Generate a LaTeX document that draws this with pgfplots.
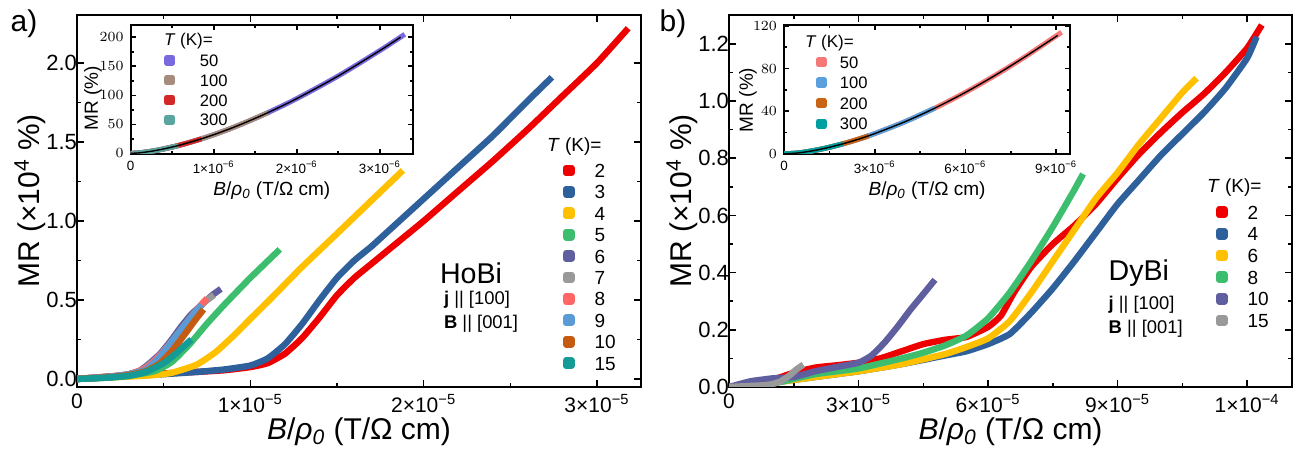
\documentclass[border=0pt]{standalone}
\usepackage{fontspec}
\setmainfont{Liberation Sans}
\usepackage{pgfplots}
\pgfplotsset{compat=1.18}

\definecolor{cRed}{RGB}{238,0,0}
\definecolor{cBlue}{RGB}{46,96,156}
\definecolor{cYel}{RGB}{255,192,0}
\definecolor{cGrn}{RGB}{60,190,110}
\definecolor{cPur}{RGB}{95,95,160}
\definecolor{cGry}{RGB}{153,153,153}
\definecolor{cPnk}{RGB}{255,102,102}
\definecolor{cLbl}{RGB}{91,155,213}
\definecolor{cOrg}{RGB}{197,90,17}
\definecolor{cTea}{RGB}{20,155,150}
% inset colours
\definecolor{iaA}{RGB}{120,105,220}
\definecolor{iaB}{RGB}{165,140,125}
\definecolor{iaC}{RGB}{210,40,40}
\definecolor{iaD}{RGB}{90,165,160}
\definecolor{ibA}{RGB}{245,120,120}
\definecolor{ibB}{RGB}{90,160,220}
\definecolor{ibC}{RGB}{200,100,20}
\definecolor{ibD}{RGB}{0,160,160}

\newcommand{\bro}{\textit{B}/\textit{ρ}\textsubscript{\textit{0}} (T/Ω cm)}
\newcommand{\sci}[2]{#1×10\textsuperscript{#2}}

\pgfplotsset{
  frame/.style={
    scale only axis, tick align=inside, no markers,
    axis line style={line width=0.9pt},
    every tick/.style={black, line width=0.8pt},
    major tick length=3.5pt, minor tick length=2pt,
    minor x tick num=1, minor y tick num=1,
    legend cell align=left,
    legend image code/.code={\fill[##1] (-1.35pt,-1.35pt) rectangle (1.35pt,1.35pt);},
  },
  mainax/.style={frame,
    every axis plot/.append style={line width=3.2pt, line join=round, smooth, tension=0.3},
    xticklabel style={font=\fontsize{10.5}{12}\selectfont},
    yticklabel style={font=\fontsize{11}{13}\selectfont, xshift=3.5pt},
    label style={font=\fontsize{15}{17}\selectfont},
    xlabel style={at={(axis description cs:0.5,-0.121)}, anchor=center},
    ylabel style={at={(axis description cs:-0.0834,0.5)}, anchor=center},
    legend style={draw=none, fill=none, inner sep=0pt,
      font=\fontsize{9.5}{11}\selectfont, column sep=10pt,
      nodes={inner sep=0pt, text height=7pt, text depth=0pt}},
  },
  insax/.style={frame,
    axis background/.style={fill=white},
    every axis plot/.append style={line width=2.5pt, line join=round, smooth},
    ticklabel style={font=\fontsize{6.7}{8}\selectfont},
    label style={font=\fontsize{9.5}{11}\selectfont},
    xlabel style={at={(axis description cs:0.5,-0.285)}, anchor=center},
    major tick length=2.5pt, minor tick length=1.5pt,
    legend style={draw=none, fill=none, inner sep=0pt,
      font=\fontsize{8.3}{10}\selectfont,
      nodes={inner sep=0pt, text height=6pt, text depth=0pt}},
  },
}

\begin{document}
\begin{tikzpicture}
\useasboundingbox (0,0) rectangle (652pt,227pt);

% ---------------- panel a: HoBi ----------------
\begin{axis}[mainax, at={(38.5pt,33.5pt)}, anchor=south west,
  width=282pt, height=186pt,
  xmin=0, xmax=3.254, ymin=-0.051, ymax=2.304,
  xtick={0,1,2,3}, xticklabels={0,\sci{1}{−5},\sci{2}{−5},\sci{3}{−5}},
  ytick={0,0.5,1,1.5,2}, yticklabels={0.0,0.5,1.0,1.5,2.0},
  xlabel={\bro}, ylabel={MR (×10\textsuperscript{4} \%)},
  legend style={at={(0.8606,0.602)}, anchor=north west, row sep=3.7pt},
]
\addplot[cRed] coordinates {(0,0)(0.3,0.025)(0.5,0.035)(0.7,0.045)(0.85,0.055)(1.0,0.075)(1.1,0.1)(1.2,0.16)(1.3,0.26)(1.4,0.39)(1.5,0.53)(1.6,0.64)(1.7,0.73)(1.8,0.82)(2.0,1.0)(2.2,1.19)(2.4,1.38)(2.6,1.58)(2.8,1.79)(3.0,2.0)(3.18,2.22)};
\addlegendentry{2}
\addplot[cBlue] coordinates {(0,0)(0.3,0.02)(0.5,0.03)(0.7,0.045)(0.85,0.06)(1.0,0.085)(1.1,0.13)(1.2,0.22)(1.3,0.35)(1.4,0.5)(1.5,0.64)(1.6,0.75)(1.7,0.84)(1.8,0.94)(2.0,1.14)(2.2,1.34)(2.4,1.54)(2.6,1.76)(2.74,1.91)};
\addlegendentry{3}
\addplot[cYel] coordinates {(0,0)(0.3,0.015)(0.45,0.025)(0.55,0.04)(0.69,0.09)(0.8,0.17)(0.9,0.27)(1.0,0.38)(1.12,0.51)(1.29,0.7)(1.5,0.92)(1.69,1.12)(1.88,1.32)};
\addlegendentry{4}
\addplot[cGrn] coordinates {(0,0)(0.2,0.01)(0.3,0.02)(0.45,0.05)(0.55,0.11)(0.65,0.22)(0.75,0.35)(0.85,0.47)(1.0,0.64)(1.17,0.82)};
\addlegendentry{5}
\addplot[cPur] coordinates {(0,0)(0.1,0.005)(0.2,0.015)(0.3,0.03)(0.36,0.05)(0.42,0.1)(0.48,0.16)(0.54,0.24)(0.6,0.33)(0.66,0.41)(0.72,0.47)(0.78,0.53)(0.83,0.57)};
\addlegendentry{6}
\addplot[cGry] coordinates {(0,0)(0.2,0.015)(0.3,0.03)(0.38,0.06)(0.45,0.12)(0.52,0.2)(0.6,0.31)(0.68,0.42)(0.74,0.49)(0.79,0.53)};
\addlegendentry{7}
\addplot[cPnk] coordinates {(0,0)(0.2,0.015)(0.3,0.03)(0.4,0.07)(0.47,0.14)(0.55,0.24)(0.62,0.34)(0.7,0.45)(0.75,0.51)};
\addlegendentry{8}
\addplot[cLbl] coordinates {(0,0)(0.2,0.015)(0.3,0.03)(0.4,0.06)(0.47,0.13)(0.55,0.24)(0.62,0.34)(0.68,0.42)(0.72,0.47)};
\addlegendentry{9}
\addplot[cOrg] coordinates {(0,0)(0.2,0.012)(0.3,0.025)(0.4,0.05)(0.48,0.1)(0.55,0.18)(0.62,0.28)(0.68,0.37)(0.73,0.44)};
\addlegendentry{10}
\addplot[cTea] coordinates {(0,0)(0.1,0.004)(0.2,0.01)(0.3,0.02)(0.4,0.045)(0.5,0.1)(0.57,0.16)(0.62,0.21)(0.66,0.25)};
\addlegendentry{15}
\end{axis}

% inset a
\begin{axis}[insax, at={(65.35pt,150pt)}, anchor=south west,
  width=141.15pt, height=64.5pt,
  xmin=0, xmax=3.4, ymin=-1, ymax=221,
  xtick={0,1,2,3}, xticklabels={0,\sci{1}{−6},\sci{2}{−6},\sci{3}{−6}},
  ytick={0,50,100,150,200},
  xlabel={\bro}, ylabel={MR (\%)},
  ylabel style={at={(axis description cs:-0.1335,0.434)}, anchor=center},
  legend style={at={(0.1183,0.775)}, anchor=north west, row sep=3.9pt, column sep=12.5pt},
]
\addplot[iaA] coordinates {(0,0)(0.1,0.9)(0.2,2.66)(0.3,4.98)(0.4,7.79)(0.5,11.0)(0.6,14.6)(0.8,22.8)(1.0,32.2)(1.2,42.7)(1.4,54.3)(1.65,70.0)(2.0,94.3)(2.5,133.3)(3.0,176.9)(3.3,205)};
\addlegendentry{50}
\addplot[iaB] coordinates {(0,0)(0.1,0.9)(0.2,2.66)(0.3,4.98)(0.4,7.79)(0.5,11.0)(0.6,14.6)(0.8,22.8)(1.0,32.2)(1.2,42.7)(1.4,54.3)(1.65,70.0)};
\addlegendentry{100}
\addplot[iaC] coordinates {(0,0)(0.1,0.9)(0.2,2.66)(0.3,4.98)(0.4,7.79)(0.5,11.0)(0.6,14.6)(0.7,18.5)(0.85,25.0)};
\addlegendentry{200}
\addplot[iaD] coordinates {(0,0)(0.1,0.9)(0.2,2.66)(0.3,4.98)(0.4,7.79)(0.5,11.0)(0.57,13.5)};
\addlegendentry{300}
\addplot[black, line width=0.7pt, forget plot] coordinates {(0,0)(0.1,0.9)(0.2,2.66)(0.3,4.98)(0.4,7.79)(0.5,11.0)(0.6,14.6)(0.8,22.8)(1.0,32.2)(1.2,42.7)(1.4,54.3)(1.65,70.0)(2.0,94.3)(2.5,133.3)(3.0,176.9)(3.25,200)};
\end{axis}

% ---------------- panel b: DyBi ----------------
\begin{axis}[mainax, at={(364.5pt,33.5pt)}, anchor=south west,
  width=281.5pt, height=186pt,
  xmin=0, xmax=13.04, ymin=0, ymax=1.301,
  xtick={0,3,6,9,12}, xticklabels={0,\sci{3}{−5},\sci{6}{−5},\sci{9}{−5},\sci{1}{−4}},
  ytick={0,0.2,0.4,0.6,0.8,1.0,1.2}, yticklabels={0.0,0.2,0.4,0.6,0.8,1.0,1.2},
  xlabel={\bro}, ylabel={MR (×10\textsuperscript{4} \%)},
  legend style={at={(0.864,0.490)}, anchor=north west, row sep=3.83pt},
]
\addplot[cRed] coordinates {(0,0)(0.5,0.01)(1.0,0.025)(1.5,0.05)(2.0,0.068)(2.5,0.076)(3.0,0.085)(3.5,0.1)(4.0,0.125)(4.5,0.15)(5.0,0.165)(5.5,0.175)(6.0,0.21)(6.3,0.25)(6.6,0.33)(7.0,0.42)(7.5,0.5)(8.0,0.565)(8.5,0.64)(9.0,0.73)(9.5,0.815)(10.0,0.89)(10.5,0.96)(11.0,1.025)(11.5,1.1)(12.0,1.185)(12.34,1.266)};
\addlegendentry{2}
\addplot[cBlue] coordinates {(0,0)(1,0.015)(2,0.035)(3,0.055)(4,0.08)(5,0.11)(5.5,0.125)(6.0,0.15)(6.5,0.185)(7.0,0.26)(7.5,0.345)(8.0,0.44)(8.5,0.54)(9.0,0.64)(9.5,0.725)(10.0,0.81)(10.5,0.885)(11.0,0.96)(11.5,1.045)(12.0,1.15)(12.22,1.225)};
\addlegendentry{4}
\addplot[cYel] coordinates {(0,0)(1,0.015)(2,0.035)(3,0.055)(4,0.08)(5,0.115)(5.5,0.14)(6,0.17)(6.5,0.23)(7,0.33)(7.5,0.44)(8,0.55)(8.5,0.66)(9,0.75)(9.5,0.85)(10,0.94)(10.5,1.03)(10.83,1.08)};
\addlegendentry{6}
\addplot[cGrn] coordinates {(0,0)(1,0.012)(2,0.045)(3,0.065)(4,0.1)(4.5,0.12)(5,0.145)(5.5,0.18)(6,0.24)(6.5,0.33)(7,0.44)(7.5,0.56)(8,0.69)(8.2,0.745)};
\addlegendentry{8}
\addplot[cPur] coordinates {(0,0)(0.5,0.02)(1.0,0.03)(1.5,0.035)(2.0,0.055)(2.5,0.07)(3.0,0.085)(3.3,0.11)(3.6,0.155)(3.9,0.21)(4.2,0.27)(4.5,0.325)(4.77,0.375)};
\addlegendentry{10}
\addplot[cGry] coordinates {(0,0)(0.4,0.003)(0.8,0.006)(1.0,0.01)(1.2,0.02)(1.4,0.04)(1.55,0.06)(1.72,0.078)};
\addlegendentry{15}
\end{axis}

% inset b
\begin{axis}[insax, at={(392pt,150pt)}, anchor=south west,
  width=143pt, height=64.5pt,
  xmin=0, xmax=9.46, ymin=0, ymax=120.8,
  xtick={0,3,6,9}, xticklabels={0,\sci{3}{−6},\sci{6}{−6},\sci{9}{−6}},
  ytick={0,40,80,120},
  xlabel={\bro}, ylabel={MR (\%)},
  ylabel style={at={(axis description cs:-0.126,0.419)}, anchor=center},
  legend style={at={(0.111,0.762)}, anchor=north west, row sep=4.27pt, column sep=6.7pt},
]
\addplot[ibA] coordinates {(0,0)(0.5,1.08)(1.0,3.28)(1.5,6.29)(2.0,9.95)(2.5,14.2)(3.0,19.1)(4.0,30.2)(5.0,43.1)(6.0,57.7)(7.0,73.9)(8.0,91.5)(9.18,114)};
\addlegendentry{50}
\addplot[ibB] coordinates {(0,0)(0.5,1.08)(1.0,3.28)(1.5,6.29)(2.0,9.95)(2.5,14.2)(3.0,19.1)(4.0,30.2)(5.0,43.1)};
\addlegendentry{100}
\addplot[ibC] coordinates {(0,0)(0.5,1.08)(1.0,3.28)(1.5,6.29)(2.0,9.95)(2.5,14.2)(2.8,17.0)};
\addlegendentry{200}
\addplot[ibD] coordinates {(0,0)(0.5,1.08)(1.0,3.28)(1.5,6.29)(1.95,9.5)};
\addlegendentry{300}
\addplot[black, line width=0.7pt, forget plot] coordinates {(0,0)(0.5,1.08)(1.0,3.28)(1.5,6.29)(2.0,9.95)(2.5,14.2)(3.0,19.1)(4.0,30.2)(5.0,43.1)(6.0,57.7)(7.0,73.9)(8.0,91.5)(9.05,111)};
\end{axis}

% panel letters, titles and sample notes
\node[font=\fontsize{15}{17}\selectfont] at (12pt,215pt) {a)};
\node[font=\fontsize{15}{17}\selectfont] at (336.5pt,215pt) {b)};
\node[anchor=west, font=\fontsize{9.5}{11}\selectfont] at (270pt,153.5pt) {\textit{T} (K)=};
\node[anchor=west, font=\fontsize{9.5}{11}\selectfont] at (600pt,133pt) {\textit{T} (K)=};
\node[anchor=west, font=\fontsize{8.5}{10}\selectfont] at (78.5pt,206.2pt) {\textit{T} (K)=};
\node[anchor=west, font=\fontsize{8.5}{10}\selectfont] at (399pt,205.4pt) {\textit{T} (K)=};
\node[anchor=west, font=\fontsize{14.3}{16}\selectfont] at (216.5pt,90.5pt) {HoBi};
\node[anchor=west, font=\fontsize{9.2}{11}\selectfont] at (218.5pt,77pt) {\textbf{j} || [100]};
\node[anchor=west, font=\fontsize{9.2}{11}\selectfont] at (218.5pt,65pt) {\textbf{B} || [001]};
\node[anchor=west, font=\fontsize{14.3}{16}\selectfont] at (550.8pt,90.5pt) {DyBi};
\node[anchor=west, font=\fontsize{9.2}{11}\selectfont] at (550.8pt,74.5pt) {\textbf{j} || [100]};
\node[anchor=west, font=\fontsize{9.2}{11}\selectfont] at (550.8pt,62.8pt) {\textbf{B} || [001]};
\end{tikzpicture}
\end{document}
